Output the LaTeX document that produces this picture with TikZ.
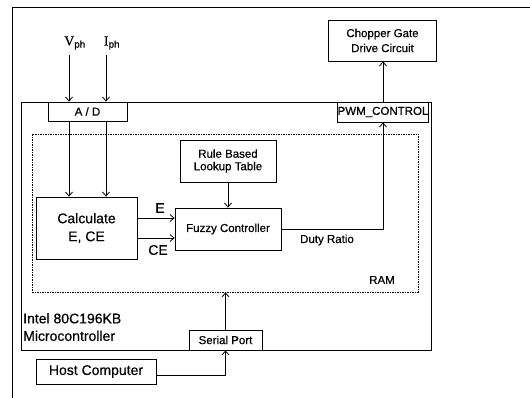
\documentclass[tikz,border=0pt]{standalone}
\usepackage{fontspec}
\setmainfont[FakeBold=0.5]{Liberation Sans}
\setsansfont[FakeBold=0.5]{Liberation Sans}
\newfontfamily\serifont[FakeBold=0.4]{Liberation Serif}
\usetikzlibrary{arrows.meta, positioning, calc}

\begin{document}
\begin{tikzpicture}[x=1pt, y=-1pt,
  blk/.style={draw, line width=0.8pt, fill=white, inner sep=0pt, align=center,
    font=\fontsize{11.5}{15}\selectfont},
  lbl/.style={inner sep=0pt, font=\fontsize{11.5}{14}\selectfont},
  big/.style={inner sep=0pt, font=\fontsize{14}{17.5}\selectfont},
  arr/.style={line width=0.8pt, -{Straight Barb[length=4pt, width=7pt]}}]
  \useasboundingbox (0,0) rectangle (530,398);
  \draw[line width=0.8pt] (12,398) -- (12,7) -- (530,7);

  \node[blk, fill=none, minimum width=410pt, minimum height=248pt] (mcu) at (226,226) {};
  \node[blk, dash pattern=on 1.5pt off 1pt, line width=0.7pt, minimum width=386pt,
    minimum height=158pt] (ram) at (225,213) {};
  \node[blk, minimum width=79pt, minimum height=19pt] (ad) at (87.5,111.5) {A / D};
  \node[blk, minimum width=90pt, minimum height=20pt] (pwm) at (383,112) {PWM\_CONTROL};
  \node[blk, minimum width=108pt, minimum height=41pt] (chopper) at (382.5,40.5)
    {Chopper Gate\\Drive Circuit};
  \node[blk, minimum width=96pt, minimum height=42pt,
    font=\fontsize{11.5}{12.5}\selectfont] (lookup) at (228,161) {Rule Based\\Lookup Table};
  \node[blk, minimum width=101pt, minimum height=62pt,
    font=\fontsize{14}{18}\selectfont] (calc) at (86.5,228) {Calculate\\E, CE};
  \node[blk, minimum width=106pt, minimum height=42pt] (fuzzy) at (228,229) {Fuzzy Controller};
  \node[blk, minimum width=73pt, minimum height=20pt] (serial) at (225.5,340) {Serial Port};
  \node[blk, minimum width=120pt, minimum height=25pt,
    font=\fontsize{14}{17}\selectfont] (host) at (96,371.5) {Host Computer};

  \coordinate (vin) at (69,55);
  \coordinate (iin) at (106,55);
  \node[font=\fontsize{14}{15}\selectfont, inner sep=0pt] (vph) at (75,43)
    {{\serifont V}\textsubscript{ph}};
  \node[font=\fontsize{14}{15}\selectfont, inner sep=0pt] (iph) at (112,43)
    {{\serifont I}\textsubscript{ph}};
  \node[big] (elab) at (160,208) {E};
  \node[big] (celab) at (158,250) {CE};
  \node[lbl] (duty) at (327,240) {Duty Ratio};
  \node[lbl] (ramlab) at (382,280) {RAM};
  \node[big, align=left, anchor=north west] (intel) at (23,313)
    {Intel 80C196KB\\Microcontroller};

  \draw[arr] (vin) -- (vin |- ad.north);
  \draw[arr] (iin) -- (iin |- ad.north);
  \draw[arr] (vin |- ad.south) -- (vin |- calc.north);
  \draw[arr] (iin |- ad.south) -- (iin |- calc.north);
  \draw[arr] ([yshift=10pt]calc.east) -- ([yshift=10pt]calc.east -| fuzzy.west);
  \draw[arr] ([yshift=-10pt]calc.east) -- ([yshift=-10pt]calc.east -| fuzzy.west);
  \draw[arr] (lookup) -- (fuzzy);
  \draw[arr] (fuzzy.east) -| (pwm.south);
  \draw[arr] (pwm.north) -- (pwm.north |- chopper.south);
  \draw[arr] (serial.north) -- (serial.north |- ram.south);
  \draw[arr] ([yshift=-4pt]host.east) -| (serial.south);
\end{tikzpicture}
\end{document}
